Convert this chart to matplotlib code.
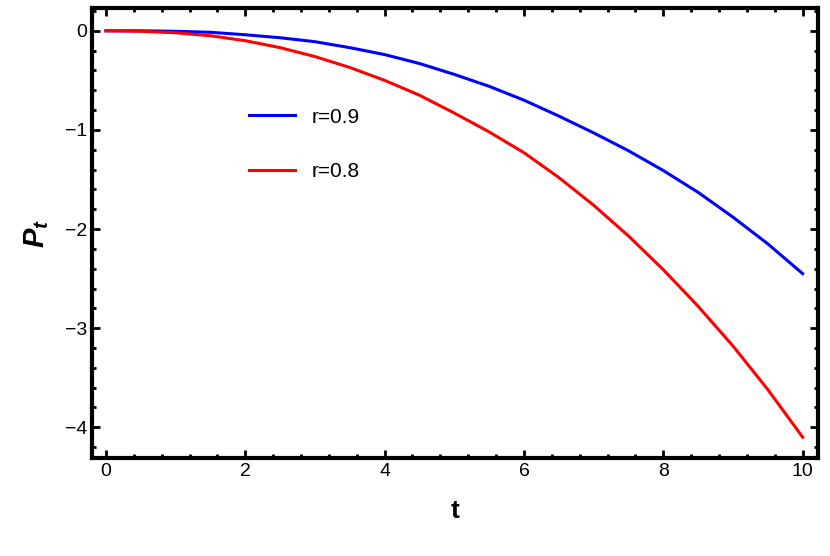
import numpy as np
import matplotlib
matplotlib.use('Agg')
import matplotlib.pyplot as plt
from matplotlib.ticker import AutoMinorLocator

plt.rcParams['font.family'] = 'Liberation Sans'
plt.rcParams['mathtext.fontset'] = 'custom'
plt.rcParams['mathtext.bfit'] = 'Liberation Sans:bold:italic'

t = [0, 0.5, 1, 1.5, 2, 2.5, 3, 3.5, 4, 4.5, 5, 5.5, 6, 6.5, 7, 7.5, 8, 8.5, 9, 9.5, 10]
p_r09 = [0, 0, -0.005, -0.015, -0.04, -0.07, -0.11, -0.17, -0.24, -0.33, -0.44,
         -0.56, -0.70, -0.86, -1.03, -1.21, -1.41, -1.63, -1.88, -2.15, -2.45]
p_r08 = [0, -0.005, -0.02, -0.05, -0.1, -0.17, -0.26, -0.37, -0.5, -0.65, -0.83,
         -1.02, -1.23, -1.48, -1.76, -2.07, -2.41, -2.78, -3.18, -3.62, -4.1]

fig = plt.figure(figsize=(8.3, 5.56), dpi=100)
ax = fig.add_axes([92/830, 1-458/556, 726/830, 450/556])
ax.plot(t, p_r09, color='blue', lw=2.2, label='r=0.9')
ax.plot(t, p_r08, color='red', lw=2.2, label='r=0.8')
ax.set_xlim(-0.2, 10.22)
ax.set_ylim(-4.31, 0.23)
ax.set_xticks([0, 2, 4, 6, 8, 10])
ax.set_yticks([0, -1, -2, -3, -4])
ax.set_yticklabels(['0', '\u22121', '\u22122', '\u22123', '\u22124'])
ax.xaxis.set_minor_locator(AutoMinorLocator(5))
ax.yaxis.set_minor_locator(AutoMinorLocator(5))
ax.tick_params(which='both', direction='in', top=True, right=True, width=2, labelsize=14)
ax.tick_params(which='major', length=6)
ax.tick_params(which='minor', length=3)
for s in ax.spines.values():
    s.set_linewidth(3)
ax.set_xlabel('t', fontsize=19, fontweight='bold', labelpad=14)
ax.set_ylabel(r'$\mathbfit{P}_{\mathbfit{t}}$', fontsize=21, labelpad=10)
ax.legend(loc='upper left', bbox_to_anchor=(0.19, 0.82), frameon=False,
          fontsize=15, handlelength=2.2, labelspacing=1.7)
fig.savefig('out.png', dpi=100)
